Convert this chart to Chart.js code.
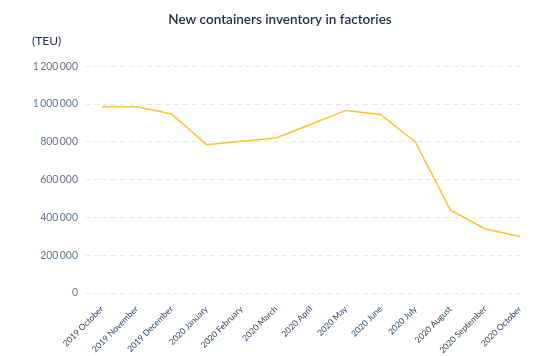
<!DOCTYPE html>
<html><head><meta charset="utf-8">
<script src="https://cdn.jsdelivr.net/npm/chart.js@4.4.0/dist/chart.umd.min.js"></script>
<style>html,body{margin:0;padding:0;background:#fff}#w{width:560px;height:356px}</style>
</head><body><div id="w"><canvas id="c"></canvas></div>
<script>
const categories = ["2019 October","2019 November","2019 December","2020 January","2020 February","2020 March","2020 April","2020 May","2020 June","2020 July","2020 August","2020 September","2020 October"];
const inventory = [985000,985000,947000,785000,803000,820000,893000,966000,945000,798000,440000,339000,299000];
const yTicks = [0,200000,400000,600000,800000,1000000,1200000];
const titleText = "New containers inventory in factories";
const unitText = "(TEU)";

const fmt = v => String(v).replace(/\B(?=(\d{3})+(?!\d))/g, "\u2009");

const unitLabel = {
  id: 'unitLabel',
  afterDraw(c) {
    const ctx = c.ctx;
    ctx.save();
    ctx.fillStyle = '#1b2e4b';
    ctx.font = '12px Lato';
    ctx.textBaseline = 'middle';
    ctx.textAlign = 'left';
    ctx.fillText(unitText, 32, 41);
    ctx.restore();
  }
};

new Chart(document.getElementById('c'), {
  type: 'line',
  data: { labels: categories, datasets: [{
    data: inventory, borderColor: '#ffc234', borderWidth: 1.5, pointRadius: 0, tension: 0, fill: false
  }]},
  options: {
    responsive: true, maintainAspectRatio: false, animation: false,
    layout: { padding: { left: 0, right: 0, top: 4, bottom: 0 } },
    plugins: {
      legend: { display: false }, tooltip: { enabled: false },
      title: { display: true, text: titleText, color: '#1b2e4b',
        font: { family: 'Lato', size: 13.5, weight: '600' }, padding: { top: 8, bottom: 38 } }
    },
    scales: {
      x: { offset: false, grid: { display: false }, border: { display: false },
        afterFit: ax => { ax.height = 63; },
        ticks: { maxRotation: 45, minRotation: 45, autoSkip: false, color: '#2b4566',
          font: { family: 'Lato', size: 8.5 }, padding: 3 } },
      y: { min: 0, max: 1200000, afterBuildTicks: ax => { ax.ticks = yTicks.map(v => ({ value: v })); },
        afterFit: ax => { ax.width = 102; },
        border: { display: false, dash: [5,4] },
        grid: { color: '#e8e8e8', lineWidth: 1, tickLength: 16, tickColor: '#e8e8e8', tickBorderDash: [5,4] },
        ticks: { color: '#647790', font: { family: 'Lato', size: 10.5 }, padding: 8,
          callback: v => fmt(v) } },
      yRight: { position: 'right', display: true, min: 0, max: 1,
        grid: { display: false, drawOnChartArea: false }, border: { display: false },
        ticks: { display: false }, afterFit: ax => { ax.width = 40; } }
    }
  },
  plugins: [unitLabel]
});
</script></body></html>
